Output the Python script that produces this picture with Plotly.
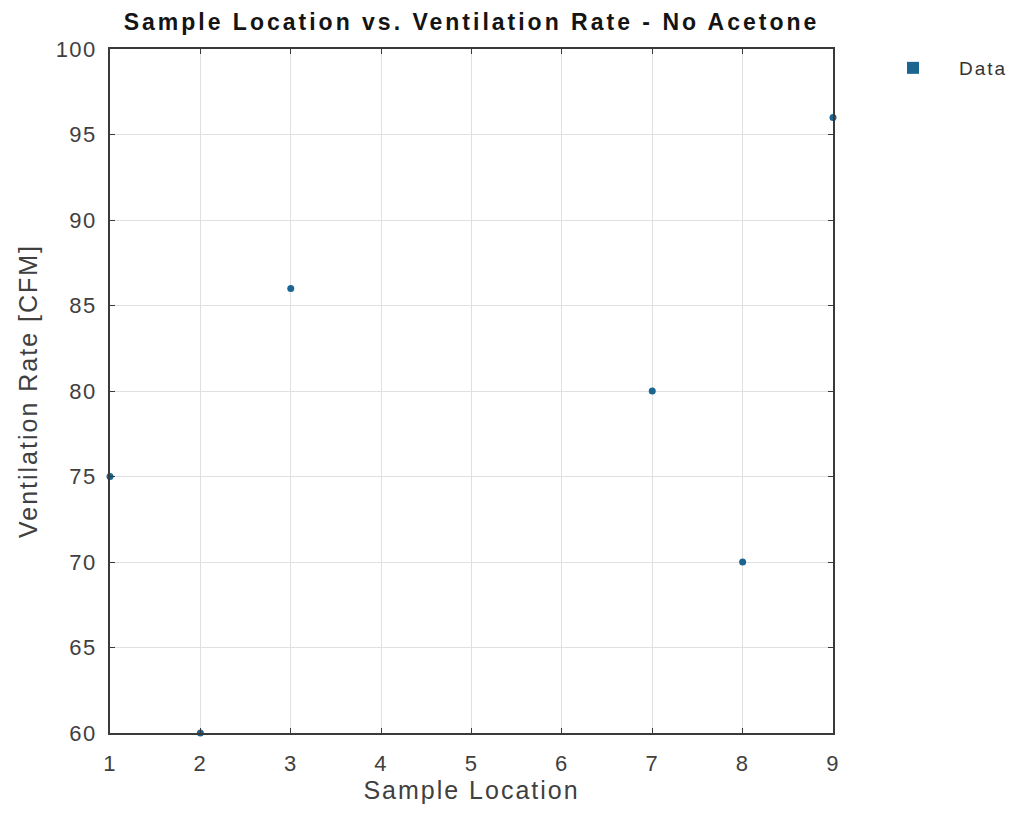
import plotly.graph_objects as go

# Measured ventilation rate at each sample location (no acetone)
sample_location = [1, 2, 3, 7, 8, 9]
ventilation_cfm = [75, 60, 86, 80, 70, 96]

x_ticks = [1, 2, 3, 4, 5, 6, 7, 8, 9]
y_ticks = [60, 65, 70, 75, 80, 85, 90, 95, 100]

marker_color = "#1b6590"
axis_color = "#3a3a3a"
font_family = "Liberation Sans, Arial, Helvetica, sans-serif"


def spaced(text, px):
    """Wrap text in a span with extra letter spacing."""
    return f'<span style="letter-spacing:{px}px">{text}</span>'


fig = go.Figure()
fig.add_trace(go.Scatter(
    x=sample_location,
    y=ventilation_cfm,
    mode="markers",
    name="Data",
    showlegend=False,
    marker=dict(color=marker_color, size=7, symbol="circle"),
    cliponaxis=False,
))
# legend entry drawn with a small square key
fig.add_trace(go.Scatter(
    x=[None],
    y=[None],
    mode="markers",
    name=spaced("Data", 2),
    marker=dict(color=marker_color, size=7, symbol="square"),
))

axis_common = dict(
    showline=True,
    linecolor=axis_color,
    linewidth=1.5,
    mirror="ticks",
    ticks="inside",
    ticklen=5,
    tickcolor=axis_color,
    showgrid=True,
    gridcolor="#e0e0e0",
    gridwidth=1,
    zeroline=False,
    tickfont=dict(family=font_family, size=22, color="#404040"),
)

fig.update_layout(
    width=1021,
    height=823,
    margin=dict(l=110, r=188, t=49, b=90, autoexpand=False),
    paper_bgcolor="white",
    plot_bgcolor="white",
    title=dict(
        text="<b>" + spaced("Sample Location vs. Ventilation Rate - No Acetone", 3.0) + "</b>",
        x=(110 + 833) / 2 / 1021,
        xanchor="center",
        y=1 - 22 / 823,
        yanchor="middle",
        font=dict(family=font_family, size=23, color="#141414"),
    ),
    xaxis=dict(
        range=[1, 9],
        tickvals=x_ticks,
        ticktext=[spaced(str(v), 1.5) for v in x_ticks],
        ticklabelstandoff=10,
        title=dict(text=spaced("Sample Location", 2), standoff=5,
                   font=dict(family=font_family, size=25, color="#404040")),
        **axis_common,
    ),
    yaxis=dict(
        range=[60, 100],
        tickvals=y_ticks,
        ticktext=[spaced(str(v), 1.5) for v in y_ticks],
        ticklabelstandoff=7,
        title=dict(text=spaced("Ventilation Rate [CFM]", 2), standoff=11,
                   font=dict(family=font_family, size=25, color="#404040")),
        **axis_common,
    ),
    showlegend=True,
    legend=dict(
        x=1.047,
        y=1.0,
        xanchor="left",
        yanchor="top",
        font=dict(family=font_family, size=19, color="#333333"),
        bgcolor="rgba(0,0,0,0)",
        itemsizing="constant",
        itemwidth=82,
    ),
)

fig.write_html("out.html")
